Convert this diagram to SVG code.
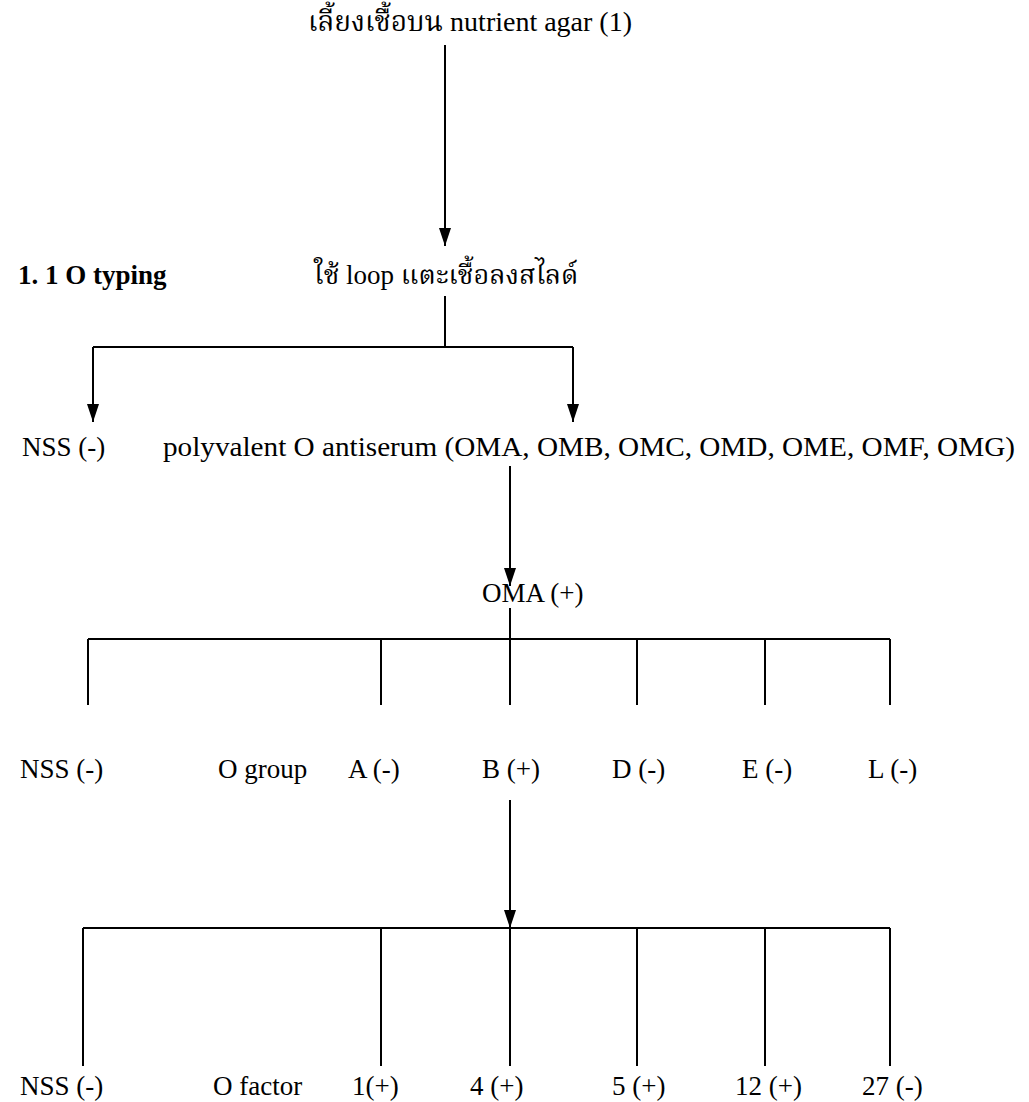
<svg xmlns="http://www.w3.org/2000/svg" width="1029" height="1102" viewBox="0 0 1029 1102">
<defs>
<style>
text{font-family:"Liberation Serif","Noto Serif Thai","Noto Sans Thai","DejaVu Serif",serif;font-size:27px;fill:#000}
.big{font-size:28px}
.b{font-weight:bold}
.ln{stroke:#000;stroke-width:2;fill:none}
</style>
<marker id="ah" markerWidth="18" markerHeight="12" refX="18" refY="6" orient="auto" markerUnits="userSpaceOnUse" viewBox="0 0 18 12">
<path d="M0,0 L18,6 L0,12 Z" fill="#000"/>
</marker>
</defs>
<rect width="1029" height="1102" fill="#fff"/>
<g id="connectors">
<line class="ln" x1="445" y1="45" x2="445" y2="246" marker-end="url(#ah)"/>
<path class="ln" d="M445,296 V347 M93,347 H573"/>
<line class="ln" x1="93" y1="347" x2="93" y2="422" marker-end="url(#ah)"/>
<line class="ln" x1="573" y1="347" x2="573" y2="422" marker-end="url(#ah)"/>
<line class="ln" x1="510" y1="466" x2="510" y2="586" marker-end="url(#ah)"/>
<path class="ln" d="M510,608 V639 M88,639 H890 M88,639 V705 M381,639 V705 M510,639 V705 M637,639 V705 M765,639 V705 M890,639 V705"/>
<line class="ln" x1="510" y1="800" x2="510" y2="928" marker-end="url(#ah)"/>
<path class="ln" d="M83,928 H890 M83,928 V1066 M381,928 V1066 M510,928 V1066 M637,928 V1066 M765,928 V1066 M890,928 V1066"/>
</g>
<g id="n-top"><text class="big" x="308" y="31">เลี้ยงเชื้อบน nutrient agar (1)</text></g>
<g id="n-otyping"><text class="b" x="18" y="284">1. 1 O typing</text></g>
<g id="n-loop"><text x="314" y="284">ใช้ loop แตะเชื้อลงสไลด์</text></g>
<g id="n-nss1"><text x="22" y="456">NSS (-)</text></g>
<g id="n-poly"><text x="163" y="456" textLength="852" lengthAdjust="spacingAndGlyphs">polyvalent O antiserum (OMA, OMB, OMC, OMD, OME, OMF, OMG)</text></g>
<g id="n-oma"><text x="482" y="602">OMA (+)</text></g>
<g id="n-nss2"><text x="20" y="778">NSS (-)</text></g>
<g id="n-ogroup"><text x="218" y="778">O group</text></g>
<g id="n-a"><text x="348" y="778">A (-)</text></g>
<g id="n-b"><text x="482" y="778">B (+)</text></g>
<g id="n-d"><text x="612" y="778">D (-)</text></g>
<g id="n-e"><text x="742" y="778">E (-)</text></g>
<g id="n-l"><text x="868" y="778">L (-)</text></g>
<g id="n-nss3"><text x="20" y="1095">NSS (-)</text></g>
<g id="n-ofactor"><text x="213" y="1095">O factor</text></g>
<g id="n-1"><text x="352" y="1095">1(+)</text></g>
<g id="n-4"><text x="470" y="1095">4 (+)</text></g>
<g id="n-5"><text x="612" y="1095">5 (+)</text></g>
<g id="n-12"><text x="735" y="1095">12 (+)</text></g>
<g id="n-27"><text x="862" y="1095">27 (-)</text></g>
</svg>
